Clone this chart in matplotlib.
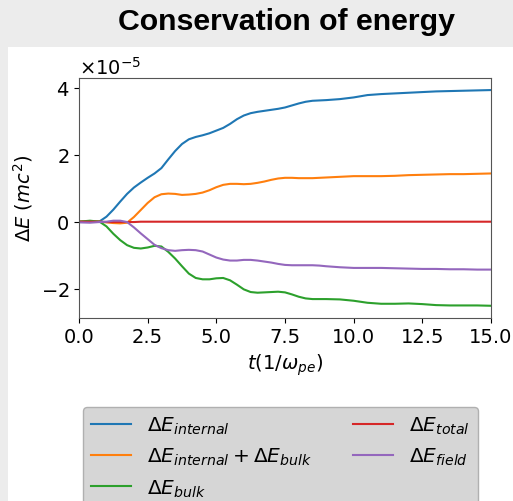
import matplotlib
matplotlib.use("Agg")
import matplotlib.pyplot as plt
from matplotlib.patches import Rectangle
from matplotlib.ticker import ScalarFormatter
import numpy as np

t = [0, 0.4, 0.75, 1.0, 1.25, 1.5, 1.75, 2.0, 2.25, 2.5, 2.75, 3.0, 3.25, 3.5, 3.75,
     4.0, 4.25, 4.5, 4.75, 5.0, 5.25, 5.5, 5.75, 6.0, 6.25, 6.5, 6.75, 7.0, 7.25, 7.5,
     7.75, 8.0, 8.25, 8.5, 8.75, 9.0, 9.5, 10.0, 10.5, 11.0, 11.5, 12.0, 12.5, 13.0,
     13.5, 14.0, 14.5, 15.0]

e_internal = [0, 0, 0.01, 0.15, 0.36, 0.6, 0.83, 1.02, 1.17, 1.31, 1.44, 1.6, 1.86, 2.11, 2.32,
              2.46, 2.53, 2.58, 2.64, 2.72, 2.8, 2.92, 3.06, 3.17, 3.24, 3.28, 3.31, 3.34, 3.37, 3.41,
              3.47, 3.53, 3.58, 3.61, 3.62, 3.63, 3.66, 3.71, 3.78, 3.81, 3.83, 3.85, 3.87, 3.89,
              3.9, 3.91, 3.92, 3.93]

e_int_bulk = [0, 0.01, 0, -0.02, -0.04, -0.05, -0.03, 0.14, 0.35, 0.56, 0.73, 0.82, 0.84, 0.83, 0.8,
              0.81, 0.83, 0.87, 0.94, 1.03, 1.1, 1.13, 1.13, 1.12, 1.13, 1.16, 1.2, 1.25, 1.29, 1.31,
              1.31, 1.30, 1.30, 1.30, 1.31, 1.32, 1.34, 1.36, 1.36, 1.36, 1.37, 1.39, 1.40, 1.41,
              1.42, 1.42, 1.43, 1.44]

e_bulk = [0, 0.03, 0.0, -0.14, -0.36, -0.55, -0.7, -0.78, -0.8, -0.77, -0.72, -0.74, -0.9, -1.1, -1.33,
          -1.55, -1.68, -1.72, -1.72, -1.69, -1.68, -1.75, -1.88, -2.02, -2.1, -2.12, -2.11, -2.1, -2.09, -2.11,
          -2.17, -2.24, -2.29, -2.31, -2.31, -2.31, -2.32, -2.36, -2.42, -2.45, -2.45, -2.44, -2.46, -2.49,
          -2.5, -2.5, -2.5, -2.51]

e_total = [0, 0, 0, -0.01, -0.01, -0.01, -0.01, -0.01, 0, 0, 0, 0, 0, 0, 0,
           0, 0, 0, 0, 0, 0, 0, 0, 0, 0, 0, 0, 0, 0, 0,
           0, 0, 0, 0, 0, 0, 0, 0, 0, 0, 0, 0, 0, 0,
           0, 0, 0, 0]

e_field = [-0.02, -0.03, -0.01, 0.0, 0.03, 0.03, -0.01, -0.17, -0.35, -0.52, -0.69, -0.79, -0.85, -0.87, -0.85,
           -0.84, -0.85, -0.89, -0.98, -1.07, -1.13, -1.16, -1.16, -1.14, -1.14, -1.16, -1.19, -1.22, -1.26, -1.29,
           -1.30, -1.30, -1.30, -1.30, -1.31, -1.33, -1.36, -1.38, -1.38, -1.38, -1.39, -1.40, -1.41, -1.41,
           -1.42, -1.42, -1.43, -1.43]

scale = 1e-5
labels = [r'$\Delta E_{internal}$', r'$\Delta E_{internal} + \Delta E_{bulk}$',
          r'$\Delta E_{bulk}$', r'$\Delta E_{total}$', r'$\Delta E_{field}$']
series = [e_internal, e_int_bulk, e_bulk, e_total, e_field]

plt.rcParams['font.size'] = 14
W, H = 513, 502
fig = plt.figure(figsize=(W / 100, H / 100), dpi=100, facecolor='#ececec')
fig.patches.append(Rectangle((8 / W, 0), 1 - 8 / W, (H - 48) / H, transform=fig.transFigure,
                             facecolor='white', edgecolor='none', zorder=-10))
fig.text(286 / W, 1 - 21.5 / H, 'Conservation of energy', ha='center', va='center',
         fontsize=21.8, fontweight='bold', family=['Liberation Sans', 'DejaVu Sans'])

ax = fig.add_axes([79 / W, 1 - 318.5 / H, (491 - 79) / W, (318.5 - 79) / H])
for s, lab in zip(series, labels):
    ax.plot(t, np.array(s) * scale, label=lab, lw=1.5)

ax.set_xlim(0, 15)
ax.set_ylim(-2.86e-5, 4.29e-5)
ax.set_xticks([0, 2.5, 5, 7.5, 10, 12.5, 15])
ax.set_yticks([-2e-5, 0, 2e-5, 4e-5])
fmt = ScalarFormatter(useMathText=True)
fmt.set_powerlimits((-3, 3))
ax.yaxis.set_major_formatter(fmt)
ax.set_xlabel(r'$t(1/\omega_{pe})$')
ax.set_ylabel(r'$\Delta E\ (mc^2)$')
for sp in ax.spines.values():
    sp.set_color('#555555')

leg = fig.legend(loc='upper left', bbox_to_anchor=(83 / W, 1 - 407.5 / H), ncol=2,
                 borderaxespad=0, facecolor='#d6d6d6', edgecolor='#b0b0b0', framealpha=1,
                 fontsize=14.5)

fig.savefig('out.png', dpi=100, facecolor=fig.get_facecolor())
